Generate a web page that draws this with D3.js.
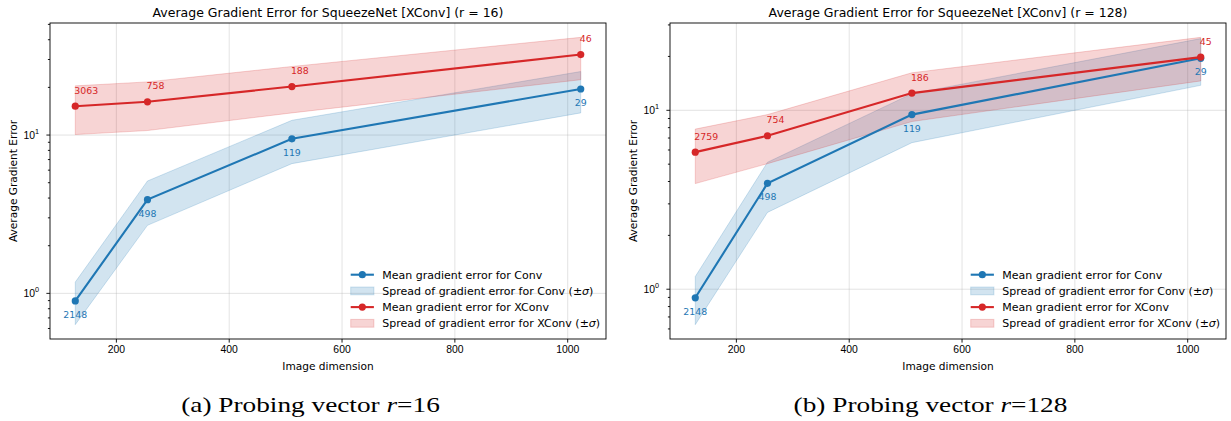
<!DOCTYPE html>
<html lang="en">
<head>
    <meta charset="UTF-8">
    <title>Average Gradient Error for SqueezeNet [XConv]</title>
    <script src="https://cdnjs.cloudflare.com/ajax/libs/d3/7.8.5/d3.min.js"></script>
    <style>
        body { margin: 0; background: #fff; }
        svg { display: block; font-family: "DejaVu Sans", sans-serif; }
        .grid line { stroke: #b0b0b0; stroke-opacity: 0.35; stroke-width: 1px; }
        .grid path { display: none; }
        .tick-axis path { display: none; }
        .tick-axis line { stroke: #000; stroke-width: 0.9px; }
        .tick-axis text { font-size: 10.4px; fill: #000; }
        .caption { font-family: "Liberation Serif", "DejaVu Serif", serif; font-size: 22px; fill: #000; }
    </style>
</head>
<body>
<div id="chart"></div>
<script>
    // image sizes on the x axis
    const imageDims = [128, 256, 512, 1024];

    // Conv (same in both panels)
    const convMean = [0.89, 3.88, 9.4, 19.4];
    const convLow = [0.63, 2.67, 6.55, 13.7];
    const convHigh = [1.17, 5.09, 12.3, 25.0];
    const convLabels = ["2148", "498", "119", "29"];

    // XConv, r = 16
    const xconvMean16 = [15.1, 16.1, 20.1, 32.0];
    const xconvLow16 = [10.0, 10.6, 13.7, 22.2];
    const xconvHigh16 = [20.3, 21.5, 26.9, 41.1];
    const xconvLabels16 = ["3063", "758", "188", "46"];

    // XConv, r = 128
    const xconvMean128 = [5.8, 7.16, 12.4, 19.7];
    const xconvLow128 = [3.87, 5.0, 8.6, 14.5];
    const xconvHigh128 = [7.8, 9.4, 16.1, 25.4];
    const xconvLabels128 = ["2759", "754", "186", "45"];

    const legendLabels = [
        "Mean gradient error for Conv",
        "Spread of gradient error for Conv (\u00b1",
        "Mean gradient error for XConv",
        "Spread of gradient error for XConv (\u00b1"
    ];

    const BLUE = "#1f77b4", RED = "#d62728";

    const W = 1231, H = 421;
    const dims = { top: 23, width: 556, height: 316 };

    const panels = [
        { x0: 50, r: 16, xm: xconvMean16, xl: xconvLow16, xh: xconvHigh16, xlab: xconvLabels16, caption: "(a) Probing vector ", capR: "16" },
        { x0: 670, r: 128, xm: xconvMean128, xl: xconvLow128, xh: xconvHigh128, xlab: xconvLabels128, caption: "(b) Probing vector ", capR: "128" }
    ];

    const svg = d3.select("#chart").append("svg")
        .attr("width", W)
        .attr("height", H);

    function drawPanel(p) {
        const w = dims.width, h = dims.height;
        const g = svg.append("g").attr("transform", `translate(${p.x0},${dims.top})`);

        // scales with matplotlib-like 5% margins
        const xSpan = d3.max(imageDims) - d3.min(imageDims);
        const x = d3.scaleLinear()
            .domain([d3.min(imageDims) - 0.05 * xSpan, d3.max(imageDims) + 0.05 * xSpan])
            .range([0, w]);

        const allVals = convLow.concat(convHigh, p.xl, p.xh);
        const lmin = Math.log10(d3.min(allVals)), lmax = Math.log10(d3.max(allVals));
        const lpad = 0.05 * (lmax - lmin);
        const y = d3.scaleLog()
            .domain([Math.pow(10, lmin - lpad), Math.pow(10, lmax + lpad)])
            .range([h, 0]);

        const xTicks = x.ticks(5);
        const allYTicks = y.ticks();
        const majorY = allYTicks.filter(v => Math.abs(Math.log10(v) - Math.round(Math.log10(v))) < 1e-9);
        const minorY = allYTicks.filter(v => !majorY.includes(v));

        // grid
        g.append("g").attr("class", "grid")
            .attr("transform", `translate(0,${h})`)
            .call(d3.axisBottom(x).tickValues(xTicks).tickSize(-h).tickFormat(""));
        g.append("g").attr("class", "grid")
            .call(d3.axisLeft(y).tickValues(majorY).tickSize(-w).tickFormat(""));

        // bands
        const band = (lo, hi) => d3.area()
            .x((d, i) => x(imageDims[i]))
            .y0((d, i) => y(lo[i]))
            .y1((d, i) => y(hi[i]))(imageDims);

        g.append("path").attr("d", band(convLow, convHigh))
            .attr("fill", BLUE).attr("fill-opacity", 0.2)
            .attr("stroke", BLUE).attr("stroke-opacity", 0.2).attr("stroke-width", 1);
        g.append("path").attr("d", band(p.xl, p.xh))
            .attr("fill", RED).attr("fill-opacity", 0.2)
            .attr("stroke", RED).attr("stroke-opacity", 0.2).attr("stroke-width", 1);

        // mean lines + markers
        const line = d3.line().x((d, i) => x(imageDims[i])).y(d => y(d));
        [[convMean, BLUE], [p.xm, RED]].forEach(([vals, col]) => {
            g.append("path").attr("d", line(vals))
                .attr("fill", "none").attr("stroke", col).attr("stroke-width", 2.1);
            g.selectAll(null).data(vals).enter().append("circle")
                .attr("cx", (d, i) => x(imageDims[i]))
                .attr("cy", d => y(d))
                .attr("r", 3.6)
                .attr("fill", col);
        });

        // annotations
        g.selectAll(null).data(convMean).enter().append("text")
            .attr("x", (d, i) => x(imageDims[i]))
            .attr("y", d => y(d) + 17)
            .attr("text-anchor", "middle")
            .attr("font-size", "9.4px")
            .attr("fill", BLUE)
            .text((d, i) => convLabels[i]);
        g.selectAll(null).data(p.xm).enter().append("text")
            .attr("x", (d, i) => x(imageDims[i]) - 1)
            .attr("y", d => y(d) - 12.5)
            .attr("text-anchor", "start")
            .attr("font-size", "9.4px")
            .attr("fill", RED)
            .text((d, i) => p.xlab[i]);

        // spines
        g.append("rect").attr("width", w).attr("height", h)
            .attr("fill", "none").attr("stroke", "#000").attr("stroke-width", 0.9);

        // x axis
        g.append("g").attr("class", "tick-axis")
            .attr("transform", `translate(0,${h})`)
            .call(d3.axisBottom(x).tickValues(xTicks).tickSize(3.6).tickPadding(3.2).tickFormat(d3.format("d")));

        // y axis: minor then major
        g.append("g").attr("class", "tick-axis")
            .call(d3.axisLeft(y).tickValues(minorY).tickSize(2.1).tickFormat(""));
        const yMaj = g.append("g").attr("class", "tick-axis")
            .call(d3.axisLeft(y).tickValues(majorY).tickSize(3.6).tickFormat(""));
        yMaj.selectAll(".tick").append("text")
            .attr("x", -11)
            .attr("dy", "0.36em")
            .attr("text-anchor", "end")
            .each(function (d) {
                const t = d3.select(this);
                t.append("tspan").text("10");
                t.append("tspan").attr("font-size", "7.3px").attr("dy", "-0.65em").text(Math.round(Math.log10(d)));
            });

        // labels
        g.append("text")
            .attr("x", w / 2).attr("y", -6.3)
            .attr("text-anchor", "middle")
            .attr("font-size", "12.5px")
            .text(`Average Gradient Error for SqueezeNet [XConv] (r = ${p.r})`);
        g.append("text")
            .attr("x", w / 2).attr("y", h + 31)
            .attr("text-anchor", "middle")
            .attr("font-size", "10.6px")
            .text("Image dimension");
        g.append("text")
            .attr("transform", `translate(${-33},${h / 2}) rotate(-90)`)
            .attr("text-anchor", "middle")
            .attr("font-size", "10.6px")
            .text("Average Gradient Error");

        // legend (lower right)
        const lx = w - 223.7, ly0 = h - 15.7 - 3 * 16.2;
        const leg = g.append("g");
        legendLabels.forEach((lab, i) => {
            const ry = ly0 + i * 16.2;
            const col = i < 2 ? BLUE : RED;
            if (i % 2 === 0) {
                leg.append("line").attr("x1", lx - 31.6).attr("x2", lx - 8.4)
                    .attr("y1", ry).attr("y2", ry)
                    .attr("stroke", col).attr("stroke-width", 2.1);
                leg.append("circle").attr("cx", lx - 20).attr("cy", ry).attr("r", 3.6).attr("fill", col);
            } else {
                leg.append("rect").attr("x", lx - 31.6).attr("y", ry - 3.9)
                    .attr("width", 23.2).attr("height", 7.8)
                    .attr("fill", col).attr("fill-opacity", 0.2)
                    .attr("stroke", col).attr("stroke-opacity", 0.2);
            }
            const t = leg.append("text").attr("x", lx).attr("y", ry + 4).attr("font-size", "11px").text(lab);
            if (i % 2 === 1) {
                t.append("tspan").attr("font-style", "italic").text("\u03c3");
                t.append("tspan").text(")");
            }
        });

        // caption (stretched a little to mimic Computer Modern widths)
        const cap = svg.append("text").attr("class", "caption")
            .attr("x", p.x0 + 260.5).attr("y", 412)
            .attr("text-anchor", "middle");
        cap.append("tspan").text(p.caption);
        cap.append("tspan").attr("font-style", "italic").text("r");
        cap.append("tspan").text("=" + p.capR);
        const natural = cap.node().getComputedTextLength();
        cap.attr("textLength", natural * 1.24).attr("lengthAdjust", "spacingAndGlyphs");
    }

    panels.forEach(drawPanel);
</script>
</body>
</html>
